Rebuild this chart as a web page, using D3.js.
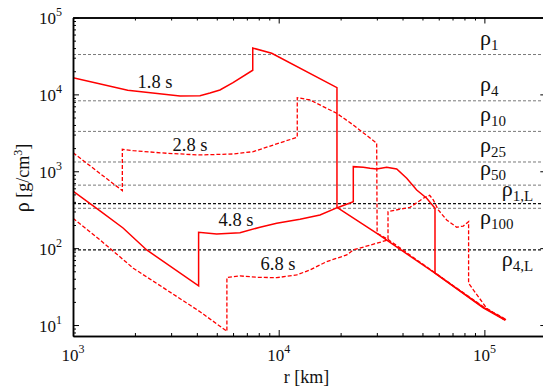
<!DOCTYPE html>
<html>
<head>
<meta charset="utf-8">
<script src="https://cdn.jsdelivr.net/npm/d3@7"></script>
<style>
  html, body { margin: 0; padding: 0; background: #fff; }
  svg { display: block; }
  svg text { font-family: "Liberation Serif", "Times New Roman", "DejaVu Serif", serif; }
</style>
</head>
<body>
<svg id="chart" width="543" height="389"></svg>
<script>
// Density profiles rho(r) [g/cm^3] versus radius r [km] at four times.
const r18   = [1000, 1845, 3313, 4144, 4634, 5180, 5997, 7480, 7480, 9250, 19200, 19200, 30290, 57532, 98790, 127350];
const rho18 = [16490, 11305, 9533, 9618, 10428, 11400, 14200, 20600, 40100, 34230, 12220, 340, 153, 47.2, 17.0, 11.65];

const r28   = [1000, 1737, 1737, 1964, 2855, 4144, 5997, 7524, 9415, 12311, 12311, 14199, 19143, 23052, 29950, 30100, 34105, 57532, 98790, 127350];
const rho28 = [1745, 559, 1932, 1853, 1714, 1629, 1679, 1798, 2198, 2768, 9060, 8457, 5678, 4000, 2313, 156, 129, 47.8, 17.3, 11.8];

const r48   = [1000, 1353, 1751, 2282, 4080, 4080, 4994, 6484, 8111, 9779, 12692, 15877, 19271, 23052, 23052, 25781, 27790, 29950, 33498, 37477, 41919, 46876, 52420, 57532, 57532, 98790, 124000];
const rho48 = [554, 305, 183, 94.8, 32.3, 161, 153, 159, 187, 211, 238, 270, 336, 402, 1148, 1127, 1094, 1071, 1127, 1071, 811, 571, 446, 330, 47.2, 16.7, 11.9];

const r68   = [1000, 1353, 1964, 2855, 4144, 5600, 5600, 6484, 7817, 9779, 12238, 14199, 17114, 21413, 23052, 29950, 34000, 34000, 38883, 43493, 47724, 50466, 54200, 56443, 59694, 65568, 73330, 78956, 83800, 83800, 102613, 126000];
const rho68 = [245, 128, 54.8, 28.6, 14.9, 8.3, 41.5, 43.5, 41.8, 41.3, 44.8, 52.1, 66.8, 81.6, 94.8, 115.8, 128, 298, 321, 340, 402, 446, 487, 424, 314, 233, 187, 194, 221, 35, 16.5, 11.5];

const timeLabels = ["1.8 s", "2.8 s", "4.8 s", "6.8 s"];

// Density thresholds drawn as horizontal reference lines
const refNames  = ["1", "4", "10", "25", "50", "100"];
const refValues = [33000, 8250, 3300, 1320, 660, 330];
const refLNames  = ["1,L", "4,L"];
const refLValues = [380, 95];

// Axis ticks
const xMajor = [1e3, 1e4, 1e5];
const xTickExps = ["3", "4", "5"];
const yMajor = [1e1, 1e2, 1e3, 1e4, 1e5];
const yTickExps = ["1", "2", "3", "4", "5"];

const FONT = "'Liberation Serif', 'Times New Roman', 'DejaVu Serif', serif";

const svg = d3.select("#chart");
const x = d3.scaleLog().domain([1e3, 2e5]).range([73, 546.3]);
const y = d3.scaleLog().domain([7.2, 1e5]).range([336, 17.5]);
const [x0, x1] = x.range();
const [yB, yT] = y.range();

svg.append("defs").append("clipPath").attr("id", "plotClip")
  .append("rect").attr("x", x0).attr("y", yT).attr("width", x1 - x0).attr("height", yB - yT);

const plot = svg.append("g").attr("clip-path", "url(#plotClip)");

// reference density levels
const hline = (v) => [[x.domain()[0], v], [x.domain()[1], v]];
const line = d3.line().x(d => x(d[0])).y(d => y(d[1]));

plot.selectAll(".ref").data(refValues).enter().append("path")
  .attr("d", v => line(hline(v)))
  .attr("fill", "none").attr("stroke", "#7a7a7a").attr("stroke-width", 1)
  .attr("stroke-dasharray", "3,2");

plot.selectAll(".refL").data(refLValues).enter().append("path")
  .attr("d", v => line(hline(v)))
  .attr("fill", "none").attr("stroke", "#111").attr("stroke-width", 1.2)
  .attr("stroke-dasharray", "3,2");

// density profiles
const series = [
  { r: r18, rho: rho18, dash: null },
  { r: r28, rho: rho28, dash: "4,2" },
  { r: r48, rho: rho48, dash: null },
  { r: r68, rho: rho68, dash: "4,2" }
];
series.forEach(s => {
  const pts = s.r.map((rv, i) => [rv, s.rho[i]]);
  plot.append("path")
    .attr("d", line(pts))
    .attr("fill", "none")
    .attr("stroke", "#ff0000")
    .attr("stroke-width", s.dash ? 1.3 : 1.5)
    .attr("stroke-linejoin", "miter")
    .attr("stroke-dasharray", s.dash);
});

function addText(px, py, size, anchor) {
  return svg.append("text").attr("x", px).attr("y", py)
    .attr("font-family", FONT).attr("font-size", size)
    .attr("text-anchor", anchor).attr("fill", "#111");
}

// time labels
const timePos = [[2504, 12110], [3706, 1853], [6200, 196], [9922, 52.1]];
timeLabels.forEach((t, i) => {
  addText(x(timePos[i][0]), y(timePos[i][1]), 18.5, "middle").text(t);
});

// labels of the reference levels
function rhoLabel(px, py, sub) {
  const t = addText(px, py, 22, "start");
  t.append("tspan").text("ρ");
  t.append("tspan").attr("font-size", 15).attr("dy", 5).text(sub);
}
const labX = x(95200), labXL = x(121400);
refNames.forEach((n, i) => {
  const below = n === "100";
  rhoLabel(labX, y(refValues[i]) + (below ? 16 : -10), n);
});
refLNames.forEach((n, i) => {
  rhoLabel(labXL, y(refLValues[i]) + (i === 1 ? 16 : -8), n);
});

// axes: major and minor ticks pointing into the plot
const xMinor = x.ticks().filter(v => !xMajor.includes(v));
const yMinor = y.ticks().filter(v => !yMajor.some(m => Math.abs(m - v) < 1e-9));

function drawAxis(axisFn, scale, transform, vals, size) {
  const g = svg.append("g").attr("transform", transform)
    .call(axisFn(scale).tickValues(vals).tickSize(-size).tickSizeOuter(0).tickFormat(""));
  g.select(".domain").attr("stroke", "#000").attr("stroke-width", 1.5);
  g.selectAll(".tick line").attr("stroke", "#000").attr("stroke-width", 1);
  return g;
}
[[6, xMajor], [3, xMinor]].forEach(([sz, vals]) => {
  drawAxis(d3.axisBottom, x, `translate(0,${yB})`, vals, sz);
  drawAxis(d3.axisTop, x, `translate(0,${yT})`, vals, sz);
});
[[6, yMajor], [3, yMinor]].forEach(([sz, vals]) => {
  drawAxis(d3.axisLeft, y, `translate(${x0},0)`, vals, sz);
  drawAxis(d3.axisRight, y, `translate(${x1},0)`, vals, sz);
});

// tick labels: powers of ten
xMajor.forEach((v, i) => {
  const t = addText(x(v), yB + 25, 17, "middle");
  t.append("tspan").text("10");
  t.append("tspan").attr("font-size", 12).attr("dy", -8).text(xTickExps[i]);
});
yMajor.forEach((v, i) => {
  const t = addText(x0 - 11, y(v) + 6.5, 17, "end");
  t.append("tspan").text("10");
  t.append("tspan").attr("font-size", 12).attr("dy", -8).text(yTickExps[i]);
});

// axis titles
addText(306.5, 383, 18, "middle").text("r [km]");
const yt = svg.append("text")
  .attr("transform", "translate(29,178) rotate(-90)")
  .attr("font-family", FONT)
  .attr("text-anchor", "middle").attr("font-size", 18).attr("fill", "#111");
yt.append("tspan").attr("font-size", 20).text("ρ");
yt.append("tspan").text(" [g/cm");
yt.append("tspan").attr("font-size", 12).attr("dy", -7).text("3");
yt.append("tspan").attr("dy", 7).text("]");
</script>
</body>
</html>
